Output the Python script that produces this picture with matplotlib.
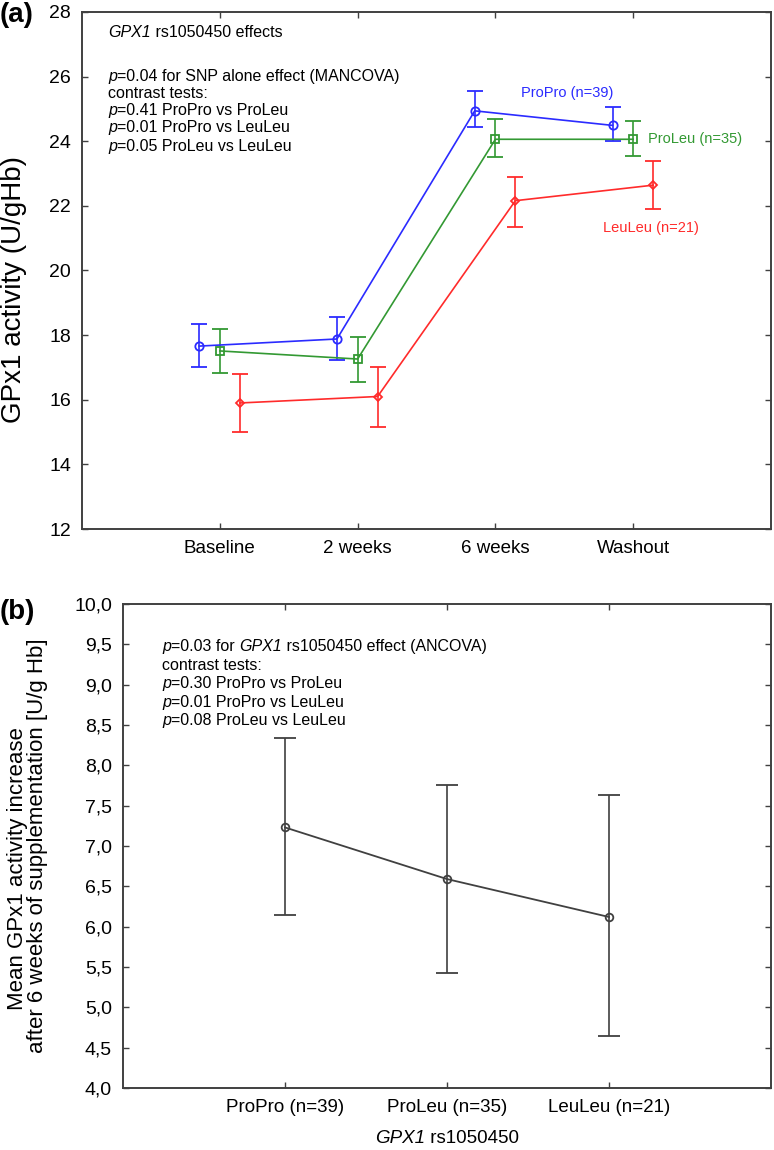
import numpy as np
import matplotlib
matplotlib.use("Agg")
import matplotlib.pyplot as plt
from matplotlib.offsetbox import TextArea, HPacker, AnnotationBbox

plt.rcParams['font.family'] = ['Liberation Sans', 'DejaVu Sans']

# panel (a): GPx1 activity over time by genotype
timepoints = ['Baseline', '2 weeks', '6 weeks', 'Washout']
propro_mean = [17.66, 17.88, 24.94, 24.49]
propro_lo = [17.02, 17.23, 24.43, 24.02]
propro_hi = [18.34, 18.57, 25.54, 25.05]
proleu_mean = [17.51, 17.26, 24.06, 24.06]
proleu_lo = [16.83, 16.55, 23.50, 23.54]
proleu_hi = [18.18, 17.95, 24.68, 24.64]
leuleu_mean = [15.90, 16.10, 22.16, 22.64]
leuleu_lo = [15.01, 15.16, 21.35, 21.91]
leuleu_hi = [16.79, 17.02, 22.90, 23.38]
group_labels = ['ProPro (n=39)', 'ProLeu (n=35)', 'LeuLeu (n=21)']

# panel (b): increase after 6 weeks
genotypes = ['ProPro (n=39)', 'ProLeu (n=35)', 'LeuLeu (n=21)']
increase_mean = [7.23, 6.59, 6.12]
increase_lo = [6.14, 5.43, 4.64]
increase_hi = [8.34, 7.75, 7.63]

# italic parts are marked with a leading '*'
text_a = [["*GPX1", " rs1050450 effects"],
          ["*p", "=0.04 for SNP alone effect (MANCOVA)"],
          ["contrast tests:"],
          ["*p", "=0.41 ProPro vs ProLeu"],
          ["*p", "=0.01 ProPro vs LeuLeu"],
          ["*p", "=0.05 ProLeu vs LeuLeu"]]
text_a_y = [27.35, 25.99, 25.47, 24.96, 24.41, 23.84]
text_b = [["*p", "=0.03 for ", "*GPX1", " rs1050450 effect (ANCOVA)"],
          ["contrast tests:"],
          ["*p", "=0.30 ProPro vs ProLeu"],
          ["*p", "=0.01 ProPro vs LeuLeu"],
          ["*p", "=0.08 ProLeu vs LeuLeu"]]
text_b_y = [9.47, 9.24, 9.01, 8.78, 8.55]

frame_col = '#404040'


def style_axes(ax):
    for sp in ax.spines.values():
        sp.set_color(frame_col)
        sp.set_linewidth(1.4)
    ax.tick_params(direction='in', length=4, width=1, colors=frame_col,
                   top=True, right=True, labelcolor='black')


def rich_line(ax, x, y, parts, size, box_align=(0, 0.5)):
    kids = []
    for p in parts:
        if p.startswith('*'):
            kids.append(TextArea(p[1:], textprops=dict(fontsize=size, fontstyle='italic')))
        else:
            kids.append(TextArea(p, textprops=dict(fontsize=size)))
    box = HPacker(children=kids, align='baseline', pad=0, sep=0)
    ab = AnnotationBbox(box, (x, y), xycoords='data', box_alignment=box_align,
                        frameon=False, pad=0, annotation_clip=False)
    ax.add_artist(ab)


fig = plt.figure(figsize=(7.74, 11.5), dpi=100)

# ---- panel (a)
ax1 = fig.add_axes([0.106, 0.54, 0.8901, 0.4496])
x = np.arange(len(timepoints))
series = [
    (propro_mean, propro_lo, propro_hi, '#2b2bff', 'o', 6, -0.15),
    (proleu_mean, proleu_lo, proleu_hi, '#339933', 's', 5.5, 0.0),
    (leuleu_mean, leuleu_lo, leuleu_hi, '#ff2b2b', 'D', 4, 0.145),
]
for mean, lo, hi, col, mk, ms, off in series:
    m = np.array(mean)
    err = [m - np.array(lo), np.array(hi) - m]
    ax1.errorbar(x + off, m, yerr=err, color=col, marker=mk, markersize=ms,
                 markerfacecolor='none', markeredgewidth=1.3, linewidth=1.2,
                 capsize=6, elinewidth=1.2, capthick=1.2)

ax1.text(2.52, 25.49, group_labels[0], color='#2b2bff', fontsize=10.5, ha='center', va='center')
ax1.text(3.11, 24.06, group_labels[1], color='#339933', fontsize=10.5, ha='left', va='center')
ax1.text(3.13, 21.32, group_labels[2], color='#ff2b2b', fontsize=10.5, ha='center', va='center')

for parts, yy in zip(text_a, text_a_y):
    rich_line(ax1, -0.81, yy, parts, 11.5)

ax1.set_xlim(-1, 4)
ax1.set_ylim(12, 28)
ax1.set_xticks(x)
ax1.set_xticklabels(timepoints, fontsize=13.5)
ax1.set_yticks(np.arange(12, 29, 2))
ax1.tick_params(axis='y', labelsize=14, pad=8)
ax1.tick_params(axis='x', pad=8)
style_axes(ax1)
fig.text(0.018, 0.748, "GPx1 activity (U/gHb)", fontsize=20, rotation=90,
         ha='center', va='center')
fig.text(0.0, 0.987, "(a)", fontsize=20, fontweight='bold', ha='left', va='center')

# ---- panel (b)
ax2 = fig.add_axes([0.159, 0.0539, 0.8371, 0.4209])
xb = np.arange(len(genotypes))
mb = np.array(increase_mean)
errb = [mb - np.array(increase_lo), np.array(increase_hi) - mb]
ax2.errorbar(xb, mb, yerr=errb, color='#404040', marker='o', markersize=5.5,
             markerfacecolor='none', markeredgewidth=1.3, linewidth=1.3,
             capsize=8, elinewidth=1.2, capthick=1.2)
for parts, yy in zip(text_b, text_b_y):
    rich_line(ax2, -0.76, yy, parts, 11.5)

ax2.set_xlim(-1, 3)
ax2.set_ylim(4, 10)
ax2.set_xticks(xb)
ax2.set_xticklabels(genotypes, fontsize=13.5)
yt = np.arange(4.0, 10.01, 0.5)
ax2.set_yticks(yt)
ax2.set_yticklabels([f"{v:.1f}".replace('.', ',') for v in yt], fontsize=14)
ax2.tick_params(axis='y', pad=8)
ax2.tick_params(axis='x', pad=8)
style_axes(ax2)
# x label with italic gene name, centred under the axis
rich_line(ax2, 1.0, 3.37, ["*GPX1", " rs1050450"], 13.5, box_align=(0.5, 0.5))
fig.text(0.022, 0.245, "Mean GPx1 activity increase", fontsize=16, rotation=90,
         ha='center', va='center')
fig.text(0.049, 0.265, "after 6 weeks of supplementation [U/g Hb]", fontsize=16,
         rotation=90, ha='center', va='center')
fig.text(0.0, 0.468, "(b)", fontsize=20, fontweight='bold', ha='left', va='center')

fig.savefig("out.png", dpi=100)
